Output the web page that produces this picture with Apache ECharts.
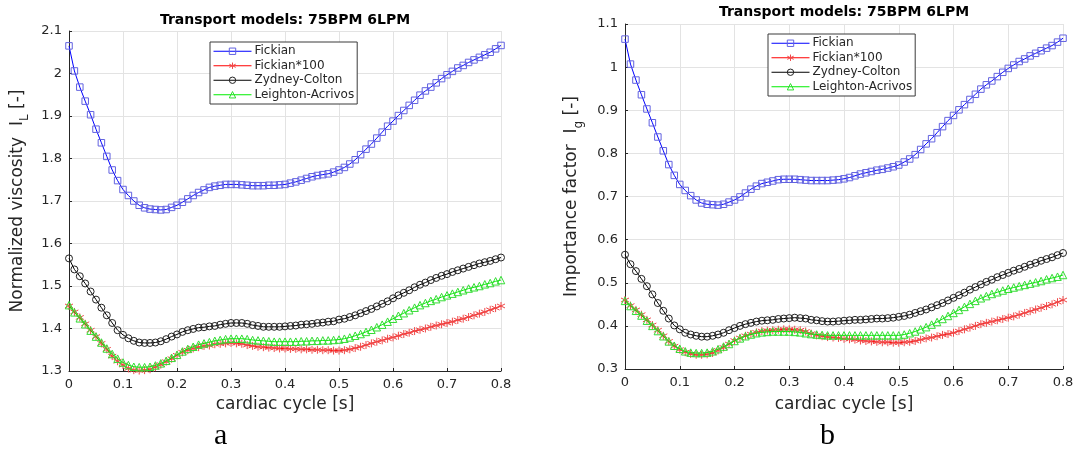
<!DOCTYPE html>
<html>
<head>
<meta charset="utf-8">
<title>Transport models: 75BPM 6LPM</title>
<script src="https://cdn.jsdelivr.net/npm/echarts@6/dist/echarts.min.js"></script>
<style>
  html, body { margin: 0; padding: 0; background: #fff; }
  #chart { width: 1078px; height: 450px; }
</style>
</head>
<body>
<div id="chart"></div>
<script>
// ---------------------------------------------------------------------------
// Data (one sample every 0.01 s)
// ---------------------------------------------------------------------------
const time = [
  0, 0.01, 0.02, 0.03, 0.04, 0.05, 0.06, 0.07, 0.08, 0.09,
  0.1, 0.11, 0.12, 0.13, 0.14, 0.15, 0.16, 0.17, 0.18, 0.19,
  0.2, 0.21, 0.22, 0.23, 0.24, 0.25, 0.26, 0.27, 0.28, 0.29,
  0.3, 0.31, 0.32, 0.33, 0.34, 0.35, 0.36, 0.37, 0.38, 0.39,
  0.4, 0.41, 0.42, 0.43, 0.44, 0.45, 0.46, 0.47, 0.48, 0.49,
  0.5, 0.51, 0.52, 0.53, 0.54, 0.55, 0.56, 0.57, 0.58, 0.59,
  0.6, 0.61, 0.62, 0.63, 0.64, 0.65, 0.66, 0.67, 0.68, 0.69,
  0.7, 0.71, 0.72, 0.73, 0.74, 0.75, 0.76, 0.77, 0.78, 0.79,
  0.8
]

const seriesNames = ['Fickian', 'Fickian*100', 'Zydney-Colton', 'Leighton-Acrivos']

// panel a: normalized viscosity I_L
const fickianA = [
  2.065, 2.006, 1.968, 1.935, 1.903, 1.869, 1.837, 1.805, 1.773, 1.748,
  1.727, 1.713, 1.700, 1.690, 1.684, 1.681, 1.680, 1.679, 1.680, 1.685,
  1.690, 1.697, 1.705, 1.713, 1.720, 1.726, 1.732, 1.735, 1.737, 1.739,
  1.739, 1.739, 1.738, 1.737, 1.736, 1.736, 1.736, 1.737, 1.737, 1.738,
  1.739, 1.742, 1.745, 1.749, 1.753, 1.757, 1.760, 1.762, 1.764, 1.768,
  1.773, 1.779, 1.787, 1.797, 1.809, 1.822, 1.834, 1.848, 1.862, 1.876,
  1.888, 1.901, 1.913, 1.925, 1.937, 1.949, 1.959, 1.968, 1.978, 1.988,
  1.997, 2.005, 2.013, 2.019, 2.026, 2.032, 2.038, 2.044, 2.050, 2.058,
  2.066
]
const fickian100A = [
  1.453, 1.439, 1.426, 1.411, 1.396, 1.381, 1.365, 1.351, 1.335, 1.323,
  1.314, 1.306, 1.302, 1.301, 1.302, 1.304, 1.309, 1.315, 1.322, 1.329,
  1.337, 1.344, 1.349, 1.353, 1.356, 1.359, 1.360, 1.363, 1.364, 1.365,
  1.366, 1.365, 1.364, 1.361, 1.359, 1.357, 1.356, 1.355, 1.354, 1.353,
  1.353, 1.352, 1.352, 1.351, 1.351, 1.350, 1.350, 1.349, 1.349, 1.348,
  1.348, 1.349, 1.351, 1.354, 1.357, 1.361, 1.365, 1.369, 1.372, 1.376,
  1.379, 1.383, 1.387, 1.390, 1.394, 1.397, 1.400, 1.404, 1.407, 1.410,
  1.413, 1.416, 1.420, 1.423, 1.427, 1.431, 1.435, 1.439, 1.444, 1.448,
  1.453
]
const zydneyA = [
  1.565, 1.539, 1.523, 1.506, 1.487, 1.468, 1.449, 1.431, 1.413, 1.396,
  1.385, 1.377, 1.371, 1.367, 1.366, 1.366, 1.367, 1.370, 1.375, 1.381,
  1.386, 1.392, 1.396, 1.399, 1.402, 1.403, 1.405, 1.406, 1.409, 1.411,
  1.413, 1.413, 1.413, 1.411, 1.408, 1.406, 1.404, 1.404, 1.404, 1.404,
  1.405, 1.406, 1.407, 1.409, 1.410, 1.411, 1.413, 1.414, 1.416, 1.417,
  1.421, 1.423, 1.427, 1.431, 1.436, 1.441, 1.446, 1.452, 1.458, 1.464,
  1.471, 1.478, 1.484, 1.490, 1.497, 1.503, 1.508, 1.514, 1.519, 1.524,
  1.528, 1.533, 1.537, 1.541, 1.545, 1.549, 1.553, 1.556, 1.559, 1.563,
  1.567
]
const leightonA = [
  1.455, 1.438, 1.424, 1.410, 1.395, 1.381, 1.367, 1.353, 1.340, 1.329,
  1.320, 1.314, 1.310, 1.309, 1.309, 1.310, 1.313, 1.318, 1.324, 1.331,
  1.338, 1.346, 1.352, 1.357, 1.362, 1.365, 1.368, 1.371, 1.373, 1.375,
  1.376, 1.376, 1.376, 1.375, 1.373, 1.372, 1.371, 1.370, 1.369, 1.369,
  1.369, 1.369, 1.369, 1.370, 1.370, 1.371, 1.371, 1.372, 1.372, 1.373,
  1.374, 1.376, 1.379, 1.383, 1.387, 1.392, 1.397, 1.403, 1.409, 1.416,
  1.423, 1.430, 1.436, 1.443, 1.449, 1.455, 1.460, 1.465, 1.469, 1.474,
  1.478, 1.482, 1.486, 1.490, 1.494, 1.497, 1.500, 1.504, 1.507, 1.511,
  1.514
]

// panel b: importance factor I_g
const fickianB = [
  1.065, 1.007, 0.970, 0.936, 0.903, 0.871, 0.838, 0.806, 0.774, 0.749,
  0.728, 0.714, 0.702, 0.692, 0.685, 0.682, 0.681, 0.680, 0.682, 0.687,
  0.692, 0.699, 0.708, 0.717, 0.724, 0.730, 0.733, 0.736, 0.739, 0.740,
  0.740, 0.740, 0.739, 0.738, 0.737, 0.737, 0.737, 0.737, 0.738, 0.739,
  0.741, 0.744, 0.748, 0.752, 0.755, 0.758, 0.761, 0.763, 0.766, 0.769,
  0.773, 0.780, 0.787, 0.797, 0.809, 0.822, 0.834, 0.848, 0.862, 0.876,
  0.888, 0.901, 0.913, 0.925, 0.937, 0.949, 0.959, 0.968, 0.978, 0.988,
  0.997, 1.005, 1.013, 1.019, 1.026, 1.032, 1.038, 1.044, 1.050, 1.058,
  1.067
]
const fickian100B = [
  0.460, 0.447, 0.437, 0.426, 0.414, 0.402, 0.390, 0.377, 0.364, 0.353,
  0.345, 0.339, 0.335, 0.333, 0.333, 0.334, 0.337, 0.343, 0.350, 0.358,
  0.366, 0.372, 0.377, 0.381, 0.385, 0.388, 0.389, 0.390, 0.391, 0.392,
  0.392, 0.391, 0.390, 0.387, 0.382, 0.378, 0.376, 0.374, 0.373, 0.372,
  0.370, 0.369, 0.368, 0.366, 0.365, 0.364, 0.363, 0.362, 0.362, 0.361,
  0.361, 0.362, 0.363, 0.365, 0.368, 0.371, 0.373, 0.376, 0.379, 0.381,
  0.384, 0.388, 0.392, 0.396, 0.400, 0.404, 0.407, 0.410, 0.413, 0.416,
  0.419, 0.422, 0.426, 0.430, 0.434, 0.438, 0.442, 0.446, 0.450, 0.455,
  0.460
]
const zydneyB = [
  0.565, 0.543, 0.527, 0.509, 0.492, 0.473, 0.453, 0.435, 0.417, 0.401,
  0.392, 0.384, 0.380, 0.377, 0.375, 0.375, 0.377, 0.380, 0.384, 0.390,
  0.395, 0.400, 0.404, 0.407, 0.410, 0.412, 0.413, 0.414, 0.416, 0.417,
  0.418, 0.419, 0.418, 0.417, 0.414, 0.413, 0.411, 0.410, 0.410, 0.411,
  0.412, 0.413, 0.414, 0.414, 0.415, 0.416, 0.417, 0.417, 0.418, 0.419,
  0.421, 0.423, 0.426, 0.430, 0.434, 0.438, 0.443, 0.448, 0.453, 0.459,
  0.465, 0.471, 0.477, 0.484, 0.490, 0.496, 0.502, 0.507, 0.513, 0.518,
  0.523, 0.528, 0.532, 0.537, 0.542, 0.546, 0.551, 0.555, 0.559, 0.564,
  0.569
]
const leightonB = [
  0.458, 0.446, 0.435, 0.424, 0.412, 0.400, 0.388, 0.376, 0.364, 0.354,
  0.347, 0.341, 0.338, 0.337, 0.337, 0.338, 0.341, 0.346, 0.352, 0.358,
  0.365, 0.371, 0.376, 0.380, 0.383, 0.385, 0.386, 0.387, 0.387, 0.387,
  0.387, 0.386, 0.385, 0.383, 0.381, 0.380, 0.379, 0.378, 0.378, 0.378,
  0.378, 0.378, 0.378, 0.378, 0.378, 0.378, 0.378, 0.378, 0.378, 0.378,
  0.378, 0.380, 0.383, 0.387, 0.392, 0.397, 0.403, 0.409, 0.416, 0.423,
  0.430, 0.437, 0.444, 0.451, 0.458, 0.464, 0.469, 0.474, 0.478, 0.482,
  0.486, 0.489, 0.492, 0.495, 0.498, 0.501, 0.504, 0.508, 0.511, 0.514,
  0.518
]

// ---------------------------------------------------------------------------
// Styles
// ---------------------------------------------------------------------------
const FONT = '"DejaVu Sans", sans-serif'
const AXIS_COLOR = '#262626'
const GRID_COLOR = '#e3e3e3'

// MATLAB-ish asterisk marker
const STAR = 'path://M0,-1L0,1M-0.866,-0.5L0.866,0.5M-0.866,0.5L0.866,-0.5'

const STYLES = [
  { line: '#0000ff', mark: '#6262e0', symbol: 'rect', size: 6.5 },
  { line: '#ff0000', mark: '#f04848', symbol: STAR, size: 8 },
  { line: '#000000', mark: '#222222', symbol: 'circle', size: 7 },
  { line: '#00ee00', mark: '#33dd33', symbol: 'triangle', size: 7.5 },
]

function makeSeries(values, idx, panel) {
  const st = STYLES[idx]
  return {
    type: 'line',
    name: seriesNames[idx],
    xAxisIndex: panel,
    yAxisIndex: panel,
    data: time.map((t, i) => [t, values[i]]),
    symbol: st.symbol,
    symbolSize: st.size,
    showSymbol: true,
    showAllSymbol: true,
    lineStyle: { color: st.line, width: 1 },
    itemStyle: { color: 'rgba(255,255,255,0)', borderColor: st.mark, borderWidth: 1 },
    emphasis: { disabled: true },
    z: 2 + idx,
  }
}

function xAxisFor(gridIndex, gap) {
  return {
    gridIndex,
    type: 'value',
    min: 0,
    max: 0.8,
    interval: 0.1,
    name: 'cardiac cycle [s]',
    nameLocation: 'middle',
    nameGap: gap,
    nameTextStyle: { fontFamily: FONT, fontSize: 17, color: AXIS_COLOR },
    axisLine: { show: true, lineStyle: { color: AXIS_COLOR, width: 1 } },
    axisTick: { show: true, inside: true, length: 3, lineStyle: { color: AXIS_COLOR } },
    axisLabel: { fontFamily: FONT, fontSize: 13, color: AXIS_COLOR, margin: 7 },
    splitLine: { show: true, lineStyle: { color: GRID_COLOR, width: 1 } },
  }
}

function yAxisFor(gridIndex, min, max, label, sub, gap) {
  return {
    gridIndex,
    type: 'value',
    min,
    max,
    interval: 0.1,
    name: '{n|' + label + '  I}{s|' + sub + '}{n| [-]}',
    nameLocation: 'middle',
    nameGap: gap,
    nameTextStyle: {
      rich: {
        n: { fontFamily: FONT, fontSize: 17, color: AXIS_COLOR, lineHeight: 26, verticalAlign: 'middle' },
        s: { fontFamily: FONT, fontSize: 12, color: AXIS_COLOR, lineHeight: 12, verticalAlign: 'bottom' },
      },
    },
    axisLine: { show: true, lineStyle: { color: AXIS_COLOR, width: 1 } },
    axisTick: { show: true, inside: true, length: 3, lineStyle: { color: AXIS_COLOR } },
    axisLabel: { fontFamily: FONT, fontSize: 13, color: AXIS_COLOR, margin: 7 },
    splitLine: { show: true, lineStyle: { color: GRID_COLOR, width: 1 } },
  }
}

function legendAt(left, top) {
  return {
    left,
    top,
    orient: 'vertical',
    itemGap: 0,
    itemWidth: 38,
    itemHeight: 8,
    padding: [2, 3, 2, 3],
    borderColor: '#3a3a3a',
    borderWidth: 1,
    backgroundColor: '#fff',
    selectedMode: false,
    lineStyle: { width: 1 },
    itemStyle: { borderWidth: 1 },
    textStyle: { fontFamily: FONT, fontSize: 12, color: AXIS_COLOR, lineHeight: 14.5, padding: [0, 0, 0, -2] },
    data: seriesNames,
  }
}

const titleStyle = { fontFamily: FONT, fontSize: 14, fontWeight: 'bold', color: '#000' }

const option = {
  animation: false,
  backgroundColor: '#fff',
  title: [
    { text: 'Transport models: 75BPM 6LPM', left: 285, top: 13, textAlign: 'center', padding: 0, textStyle: titleStyle },
    { text: 'Transport models: 75BPM 6LPM', left: 844, top: 5, textAlign: 'center', padding: 0, textStyle: titleStyle },
  ],
  grid: [
    { left: 69, top: 31, width: 432, height: 340 },
    { left: 625, top: 24, width: 438, height: 345 },
  ],
  legend: [legendAt(210, 42), legendAt(768, 34)],
  xAxis: [xAxisFor(0, 25), xAxisFor(1, 27)],
  yAxis: [
    yAxisFor(0, 1.3, 2.1, 'Normalized viscosity', 'L', 38),
    yAxisFor(1, 0.3, 1.1, 'Importance factor', 'g', 40),
  ],
  series: [
    makeSeries(fickianA, 0, 0),
    makeSeries(fickian100A, 1, 0),
    makeSeries(zydneyA, 2, 0),
    makeSeries(leightonA, 3, 0),
    makeSeries(fickianB, 0, 1),
    makeSeries(fickian100B, 1, 1),
    makeSeries(zydneyB, 2, 1),
    makeSeries(leightonB, 3, 1),
  ],
  graphic: [
    { type: 'text', left: 214, top: 421, style: { text: 'a', font: '30px "Liberation Serif", serif', fill: '#000' } },
    { type: 'text', left: 820, top: 421, style: { text: 'b', font: '30px "Liberation Serif", serif', fill: '#000' } },
  ],
}

const chart = echarts.init(document.getElementById('chart'), null, { renderer: 'canvas' })
chart.setOption(option)
</script>
</body>
</html>
